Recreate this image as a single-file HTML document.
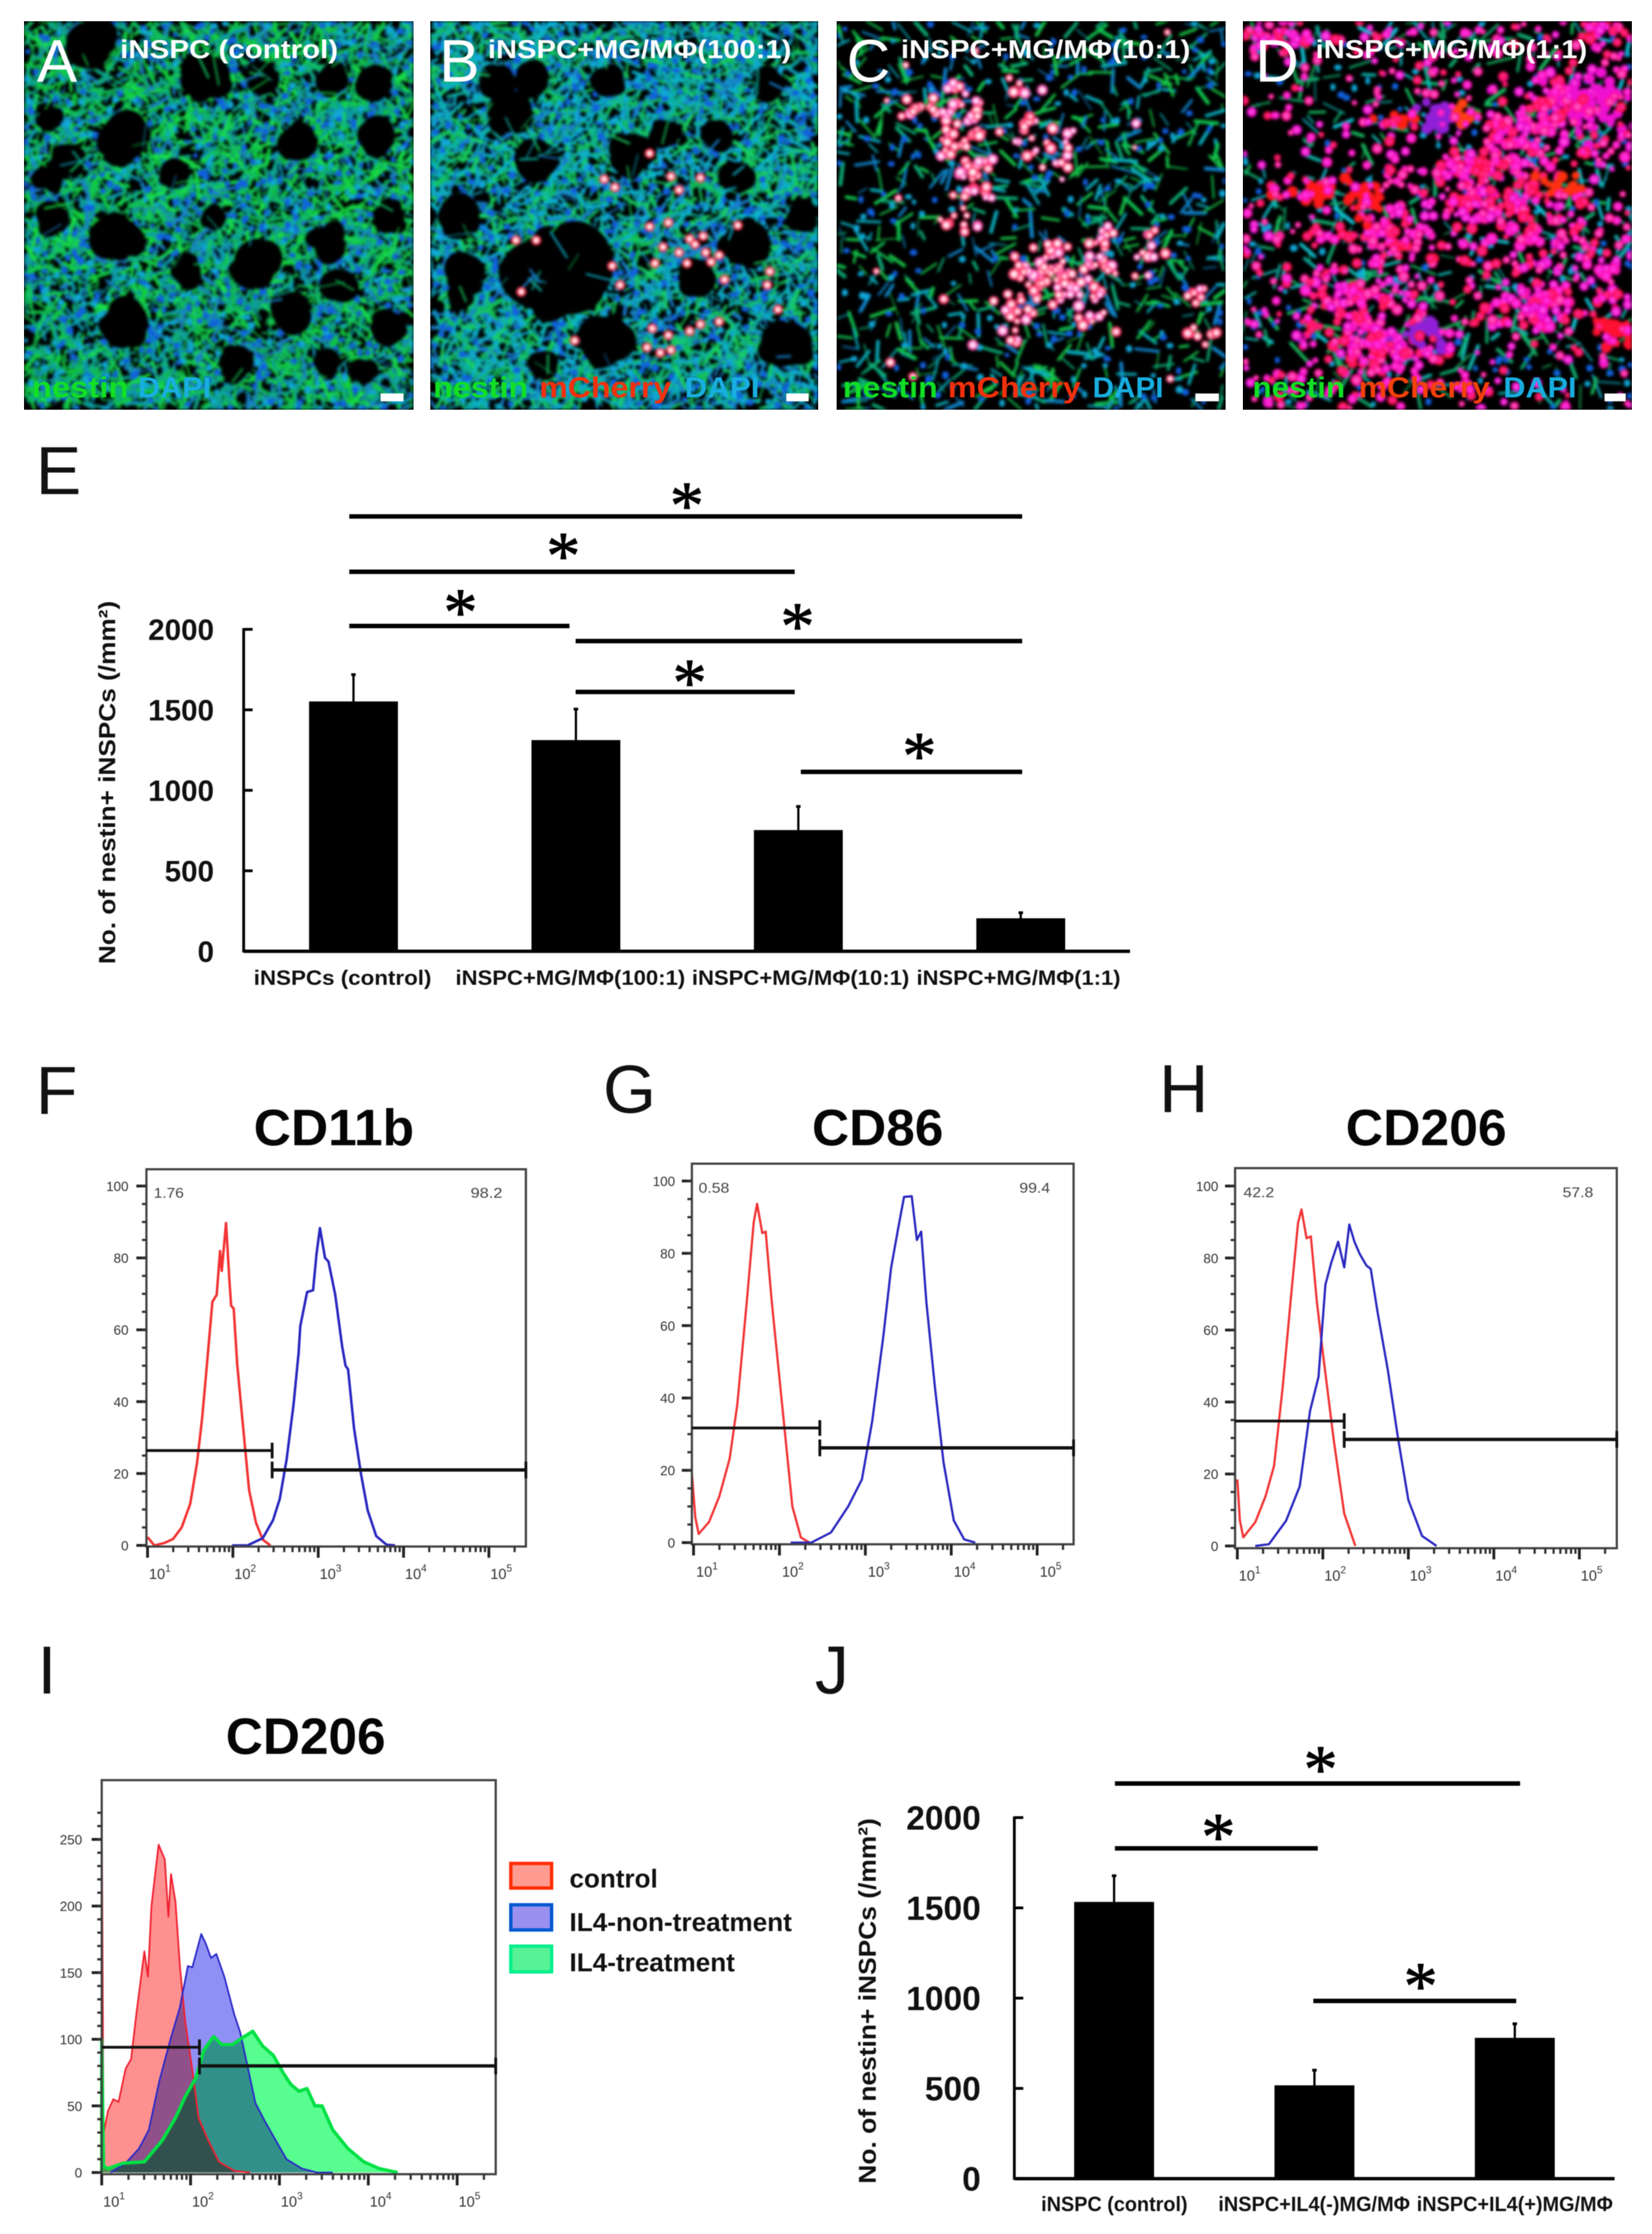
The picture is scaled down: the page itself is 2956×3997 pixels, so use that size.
<!DOCTYPE html>
<html lang="en">
<head>
<meta charset="utf-8">
<title>Nestin+ iNSPC co-culture figure</title>
<style>
html,body{margin:0;padding:0;background:#fff}
#fig{position:relative;width:2956px;height:3997px;overflow:hidden;background:#fff}
.micbox{position:absolute;top:38px;height:695px;overflow:hidden;background:#000}
canvas{display:block;filter:blur(2.6px)}
svg{position:absolute;left:0;top:0;filter:blur(.7px)}
text{font-family:"Liberation Sans",sans-serif}
.pl{font-size:122px;fill:#111}
.pw{font-size:108px;fill:#fff}
.pt{font-size:46px;font-weight:700;fill:#fff}
.st{font-size:52px;font-weight:700}
.ht{font-size:92px;font-weight:700;fill:#050505}
.pc{font-size:25px;fill:#444}
.star{font-family:"Liberation Serif",serif;font-size:122px;font-weight:400;fill:#000;stroke:#000;stroke-width:1.5;text-anchor:middle}
.lg{font-size:46px;font-weight:700;fill:#111}
</style>
</head>
<body>
<div id="fig">
<div class="micbox" style="left:43px;width:697px"><canvas id="micA" width="697" height="695"></canvas></div>
<div class="micbox" style="left:770px;width:694px"><canvas id="micB" width="694" height="695"></canvas></div>
<div class="micbox" style="left:1497px;width:696px"><canvas id="micC" width="696" height="695"></canvas></div>
<div class="micbox" style="left:2224px;width:696px"><canvas id="micD" width="696" height="695"></canvas></div>

<svg id="s" width="2956" height="3997" viewBox="0 0 2956 3997" xmlns="http://www.w3.org/2000/svg">
  <!-- micrograph labels -->
  <text class="pw" x="66" y="146">A</text>
  <text class="pw" x="786" y="146">B</text>
  <text class="pw" x="1515" y="146">C</text>
  <text class="pw" x="2246" y="146">D</text>

  <text class="pt" x="215" y="104" textLength="390" lengthAdjust="spacingAndGlyphs">iNSPC (control)</text>
  <text class="pt" x="873" y="104" textLength="543" lengthAdjust="spacingAndGlyphs">iNSPC+MG/MΦ(100:1)</text>
  <text class="pt" x="1612" y="104" textLength="518" lengthAdjust="spacingAndGlyphs">iNSPC+MG/MΦ(10:1)</text>
  <text class="pt" x="2354" y="104" textLength="486" lengthAdjust="spacingAndGlyphs">iNSPC+MG/MΦ(1:1)</text>

  <g>
    <text class="st" x="57" y="711" fill="#12e024" textLength="173" lengthAdjust="spacingAndGlyphs">nestin</text>
    <text class="st" x="247" y="711" fill="#18aee0" textLength="131" lengthAdjust="spacingAndGlyphs">DAPI</text>
  </g>
  <g>
    <text class="st" x="775" y="711" fill="#12e024" textLength="170" lengthAdjust="spacingAndGlyphs">nestin</text>
    <text class="st" x="965" y="711" fill="#f4300c" textLength="236" lengthAdjust="spacingAndGlyphs">mCherry</text>
    <text class="st" x="1225" y="711" fill="#18aee0" textLength="134" lengthAdjust="spacingAndGlyphs">DAPI</text>
  </g>
  <g>
    <text class="st" x="1508" y="711" fill="#12e024" textLength="170" lengthAdjust="spacingAndGlyphs">nestin</text>
    <text class="st" x="1696" y="711" fill="#f4300c" textLength="238" lengthAdjust="spacingAndGlyphs">mCherry</text>
    <text class="st" x="1955" y="711" fill="#18aee0" textLength="127" lengthAdjust="spacingAndGlyphs">DAPI</text>
  </g>
  <g>
    <text class="st" x="2241" y="711" fill="#12e024" textLength="166" lengthAdjust="spacingAndGlyphs">nestin</text>
    <text class="st" x="2431" y="711" fill="#f4400c" textLength="235" lengthAdjust="spacingAndGlyphs">mCherry</text>
    <text class="st" x="2690" y="711" fill="#18aee0" textLength="131" lengthAdjust="spacingAndGlyphs">DAPI</text>
  </g>
  <rect x="681" y="704" width="41" height="14" fill="#fff"/>
  <rect x="1407" y="704" width="40" height="14" fill="#fff"/>
  <rect x="2139" y="704" width="42" height="14" fill="#fff"/>
  <rect x="2871" y="704" width="38" height="14" fill="#fff"/>

  <!-- panel letters -->
  <text class="pl" x="64" y="884">E</text>
  <text class="pl" x="64" y="1993">F</text>
  <text class="pl" x="1079" y="1991">G</text>
  <text class="pl" x="2074" y="1990">H</text>
  <text class="pl" x="67" y="3030">I</text>
  <text class="pl" x="1458" y="3030">J</text>

  <!-- E significance annotations -->
  <g fill="#000">
    <rect x="625" y="920" width="1204" height="8"/>
    <rect x="625" y="1019" width="797" height="8"/>
    <rect x="625" y="1116" width="394" height="8"/>
    <rect x="1030" y="1143" width="799" height="8"/>
    <rect x="1030" y="1234" width="392" height="8"/>
    <rect x="1433" y="1377" width="396" height="8"/>
    <text class="star" x="1229" y="945">*</text>
    <text class="star" x="1008" y="1035">*</text>
    <text class="star" x="824" y="1136">*</text>
    <text class="star" x="1427" y="1161">*</text>
    <text class="star" x="1234" y="1262">*</text>
    <text class="star" x="1645" y="1393">*</text>
  </g>
  <text transform="translate(206,1725) rotate(-90)" font-size="42" font-weight="700" fill="#111" textLength="650" lengthAdjust="spacingAndGlyphs">No. of nestin+ iNSPCs (/mm²)</text>

  <!-- J significance annotations -->
  <g fill="#000">
    <rect x="1995" y="3187" width="725" height="8"/>
    <rect x="1995" y="3303" width="363" height="8"/>
    <rect x="2350" y="3576" width="363" height="8"/>
    <text class="star" x="2363" y="3206">*</text>
    <text class="star" x="2180" y="3327">*</text>
    <text class="star" x="2542" y="3594">*</text>
  </g>
  <text transform="translate(1567,3907) rotate(-90)" font-size="44" font-weight="700" fill="#111" textLength="654" lengthAdjust="spacingAndGlyphs">No. of nestin+ iNSPCs (/mm²)</text>

  <!-- flow titles -->
  <text class="ht" x="454" y="2049" textLength="287" lengthAdjust="spacingAndGlyphs">CD11b</text>
  <text class="ht" x="1453" y="2049" textLength="235" lengthAdjust="spacingAndGlyphs">CD86</text>
  <text class="ht" x="2408" y="2049" textLength="288" lengthAdjust="spacingAndGlyphs">CD206</text>
  <text class="ht" x="404" y="3138" textLength="286" lengthAdjust="spacingAndGlyphs">CD206</text>

  <text class="pc" x="275" y="2143" textLength="54" lengthAdjust="spacingAndGlyphs">1.76</text>
  <text class="pc" x="842" y="2143" textLength="57" lengthAdjust="spacingAndGlyphs">98.2</text>
  <text class="pc" x="1250" y="2134" textLength="55" lengthAdjust="spacingAndGlyphs">0.58</text>
  <text class="pc" x="1824" y="2134" textLength="55" lengthAdjust="spacingAndGlyphs">99.4</text>
  <text class="pc" x="2225" y="2142" textLength="55" lengthAdjust="spacingAndGlyphs">42.2</text>
  <text class="pc" x="2796" y="2142" textLength="55" lengthAdjust="spacingAndGlyphs">57.8</text>

  <!-- legend for I -->
  <g>
    <g>
      <rect x="914" y="3334" width="73" height="44" fill="#ff9c92" stroke="#ff2c00" stroke-width="6"/>
      <text class="lg" x="1019" y="3377" textLength="158" lengthAdjust="spacingAndGlyphs">control</text>
    </g>
    <g>
      <rect x="914" y="3408" width="73" height="45" fill="#9a90f0" stroke="#0058d0" stroke-width="6"/>
      <text class="lg" x="1019" y="3455" textLength="398" lengthAdjust="spacingAndGlyphs">IL4-non-treatment</text>
    </g>
    <g>
      <rect x="914" y="3482" width="73" height="46" fill="#58f296" stroke="#00ee8c" stroke-width="6"/>
      <text class="lg" x="1019" y="3527" textLength="296" lengthAdjust="spacingAndGlyphs">IL4-treatment</text>
    </g>
  </g>
</svg>
</div>

<script>
/* ---------- Panel E data ---------- */
const eCategories = ['iNSPCs (control)', 'iNSPC+MG/MΦ(100:1)', 'iNSPC+MG/MΦ(10:1)', 'iNSPC+MG/MΦ(1:1)'];
const eValues = [1552, 1312, 753, 205];
const eErrorTops = [1722, 1508, 903, 243];
const eTickLabels = [0, 500, 1000, 1500, 2000];

/* ---------- Panel J data ---------- */
const jCategories = ['iNSPC (control)', 'iNSPC+IL4(-)MG/MΦ', 'iNSPC+IL4(+)MG/MΦ'];
const jValues = [1533, 517, 780];
const jErrorTops = [1681, 604, 861];
const jTickLabels = [0, 500, 1000, 1500, 2000];

/* ---------- Flow cytometry data: log10 intensity and % of max / count ---------- */
const pctTicks = [0, 20, 40, 60, 80, 100];
const countTicks = [0, 50, 100, 150, 200, 250];
const decadeExponents = [1, 2, 3, 4, 5];

const fRedLog = [1.00,1.08,1.20,1.30,1.40,1.50,1.58,1.64,1.69,1.76,1.81,1.85,1.87,1.92,1.96,1.98,2.01,2.05,2.11,2.19,2.27,2.35,2.44];
const fRedPct = [2.3,0,0.7,1.8,5,11.6,23,35.4,48.8,67.8,69.7,81.9,76.4,89.7,73.5,66.7,65.9,50.7,35.4,15.4,6.4,1.6,0];
const fBlueLog = [1.99,2.17,2.35,2.47,2.55,2.63,2.71,2.77,2.79,2.87,2.94,2.98,3.02,3.08,3.12,3.20,3.28,3.32,3.35,3.42,3.50,3.58,3.68,3.80,3.90];
const fBluePct = [0,0,2,7,13,24,39,53.5,61,70.5,71,81,88.3,80,79,69.7,55.4,50,49,32.6,20,9.7,2.6,0.2,0];
const fGateSplit = [2.46];
const fGateLevels = [26.4, 21];

const gRedLog = [0.98,1.02,1.06,1.18,1.30,1.42,1.51,1.62,1.70,1.74,1.80,1.84,1.91,1.99,2.07,2.15,2.25,2.35];
const gRedPct = [19.4,7,2.4,5.7,12.8,23.2,38.3,66.7,88.5,93.7,85.6,86,66.7,47.8,28.9,10,1.4,0];
const gBlueLog = [2.13,2.37,2.60,2.80,2.96,3.08,3.21,3.30,3.38,3.45,3.54,3.60,3.65,3.71,3.81,3.91,4.03,4.15,4.28];
const gBluePct = [0,0,2.8,10,17.5,33.6,57.2,76,86.6,95.6,95.8,83.7,86,66.7,43,22.2,6.1,0.9,0];
const gGateSplit = [2.47];
const gGateLevels = [31.7, 26.2];

const hRedLog = [1,1.03,1.07,1.21,1.33,1.43,1.53,1.63,1.71,1.75,1.81,1.86,1.93,2.01,2.13,2.25,2.38];
const hRedPct = [18.5,7,2.4,6.6,13.8,22.3,44,69.8,89.7,93.5,85.5,86,67.9,51.8,29,9,0];
const hBlueLog = [1.21,1.37,1.57,1.73,1.85,1.95,2.03,2.10,2.18,2.25,2.31,2.37,2.43,2.51,2.56,2.64,2.76,2.88,3.0,3.16,3.33];
const hBluePct = [0,0.5,7,16.6,37.5,47,72.6,78.8,84.5,77.4,89.3,84.5,81.2,77.9,77,65,48.9,29.9,12.8,2.8,0];
const hGateSplit = [2.25];
const hGateLevels = [34.7, 29.6];

const iRedLog = [1,1,1.02,1.07,1.13,1.19,1.27,1.33,1.39,1.48,1.52,1.56,1.64,1.71,1.75,1.78,1.83,1.88,1.94,2.02,2.09,2.20,2.32,2.49,2.67];
const iRedCount = [0,284,29,46,55,53,78,85,119,166,147,200,246,235,192,224,203,155,113,77,41,24,8,1.4,0];
const iBlueLog = [1.1,1.27,1.42,1.53,1.65,1.77,1.88,1.97,2.02,2.12,2.17,2.23,2.29,2.38,2.49,2.56,2.64,2.73,2.84,2.96,3.08,3.25,3.42,3.6];
const iBlueCount = [0,7,18,32,69,99,124,155,154,179,172,161,164,147,119,105,80,52,38,24,10,3,0,0];
const iGreenLog = [1,1,1.02,1.07,1.24,1.48,1.68,1.83,1.94,2.06,2.15,2.26,2.35,2.47,2.58,2.70,2.81,2.93,3.05,3.13,3.22,3.31,3.40,3.48,3.60,3.77,3.95,4.12,4.33];
const iGreenCount = [0,100,5,3,7,8,24,41,57,71,92,102,96,96,101,106,95,88,74,66,61,63,50,50,32,18,8,3,0];
const iGateSplit = [2.10];
const iGateLevels = [94, 80];

/* ---------- helpers ---------- */
const NS = 'http://www.w3.org/2000/svg';
const svg = document.getElementById('s');
function mk(tag, attrs, parent, txt) {
  const el = document.createElementNS(NS, tag);
  for (const k in attrs) el.setAttribute(k, attrs[k]);
  if (txt !== undefined) el.textContent = txt;
  (parent || svg).appendChild(el);
  return el;
}
function slug(s) { return s.toLowerCase().replace(/[^a-z0-9]+/g, '-').replace(/^-|-$/g, ''); }

/* ---------- bar charts ---------- */
function barChart(cfg) {
  const g = mk('g', {});
  
  
  const yScale = v => cfg.y0 - (v / cfg.yMax) * cfg.yLen;
  const xScale = i => cfg.firstCenter + i * cfg.step;

  const yAxis = mk('line', {x1: cfg.axisX, x2: cfg.axisX, y1: yScale(cfg.yMax) - 2, y2: cfg.y0 + 2, stroke: '#000', 'stroke-width': 5}, g);
  
  
  const xAxis = mk('line', {x1: cfg.axisX, x2: cfg.axisEnd, y1: cfg.y0, y2: cfg.y0, stroke: '#000', 'stroke-width': 6}, g);
  
  

  cfg.ticks.forEach(t => {
    const tk = mk('line', {x1: cfg.axisX, x2: cfg.axisX + 16, y1: yScale(t), y2: yScale(t), stroke: '#000', 'stroke-width': 5}, g);
    
    
    const lb = mk('text', {x: cfg.labelRight, y: yScale(t) + cfg.tickFont * 0.36, 'text-anchor': 'end', 'font-size': cfg.tickFont, 'font-weight': 700, fill: '#111'}, g, String(t));
    
    
  });

  cfg.values.forEach((v, i) => {
    const cx = xScale(i);
    const err = mk('line', {x1: cx, x2: cx, y1: yScale(cfg.errors[i]), y2: yScale(v), stroke: '#000', 'stroke-width': 4}, g);
    
    
    const cap = mk('line', {x1: cx - 4, x2: cx + 4, y1: yScale(cfg.errors[i]) + 1, y2: yScale(cfg.errors[i]) + 1, stroke: '#000', 'stroke-width': 5}, g);
    
    
    const bar = mk('rect', {x: cx - cfg.barW / 2, y: yScale(v), width: cfg.barW, height: cfg.y0 - yScale(v), fill: '#000'}, g);
    
    
    const lay = cfg.labelLayout[i];
    const lb = mk('text', {x: lay.x, y: cfg.labelY, 'font-size': 37, 'font-weight': 700, fill: '#111', textLength: lay.w, lengthAdjust: 'spacingAndGlyphs'}, g, cfg.categories[i]);
    
    
  });
}

barChart({
  id: 'e', categories: eCategories, values: eValues, errors: eErrorTops, ticks: eTickLabels,
  yMax: 2000, yLen: 576, y0: 1702, axisX: 436, axisEnd: 2022, firstCenter: 632.5, step: 398, barW: 159,
  labelRight: 383, tickFont: 53, labelY: 1762,
  labelLayout: [{x: 454, w: 318}, {x: 815, w: 411}, {x: 1238, w: 389}, {x: 1640, w: 365}]
});
barChart({
  id: 'j', categories: jCategories, values: jValues, errors: jErrorTops, ticks: jTickLabels,
  yMax: 2000, yLen: 646, y0: 3898, axisX: 1815, axisEnd: 2889, firstCenter: 1993.5, step: 358.5, barW: 143,
  labelRight: 1755, tickFont: 60, labelY: 3956,
  labelLayout: [{x: 1863, w: 262}, {x: 2180, w: 343}, {x: 2535, w: 351}]
});

/* ---------- flow histograms ---------- */
function histPlot(c) {
  const g = mk('g', {});
  
  
  const xs = lg => c.x10 + (lg - 1) * c.dec;
  const ys = v => c.y0 - v * c.ppu;
  const xEnd = c.r;

  c.series.forEach(s => {
    const pts = s.x.map((lg, i) => [xs(lg), ys(s.y[i])]);
    if (s.fill) {
      const d = 'M' + xs(s.x[0]) + ' ' + c.y0 + ' L' + pts.map(p => p[0].toFixed(1) + ' ' + p[1].toFixed(1)).join(' L') + ' L' + xs(s.x[s.x.length - 1]) + ' ' + c.y0 + ' Z';
      const area = mk('path', {d: d, fill: s.fill, style: 'mix-blend-mode:multiply'}, g);
      
      
    }
  });
  c.series.forEach(s => {
    const pts = s.x.map((lg, i) => xs(lg).toFixed(1) + ',' + ys(s.y[i]).toFixed(1)).join(' ');
    const ln = mk('polyline', {points: pts, fill: 'none', stroke: s.stroke, 'stroke-width': s.w, 'stroke-linejoin': 'round'}, g);
    
    
  });

  const frame = mk('rect', {x: c.l, y: c.t, width: c.r - c.l, height: c.b - c.t, fill: 'none', stroke: '#444', 'stroke-width': 4}, g);
  
  

  c.yTicks.forEach(t => {
    const tk = mk('line', {x1: c.l - 18, x2: c.l, y1: ys(t), y2: ys(t), stroke: '#222', 'stroke-width': 5}, g);
    
    
    const lb = mk('text', {x: c.labelRight, y: ys(t) + 9, 'text-anchor': 'end', 'font-size': 24, fill: '#333'}, g, String(t));
    
    
  });
  const mt = mk('g', {stroke: '#333', 'stroke-width': 4}, g);
  
  
  const topVal = c.yTicks[c.yTicks.length - 1];
  for (let v = 0; v <= topVal + c.minorStep * 2; v += c.minorStep) {
    if (ys(v) < c.t) break;
    mk('line', {x1: c.l - 8, x2: c.l, y1: ys(v), y2: ys(v)}, mt);
  }
  decadeExponents.forEach(ex => {
    const tk = mk('line', {x1: xs(ex), x2: xs(ex), y1: c.b, y2: c.b + 20, stroke: '#222', 'stroke-width': 5}, g);
    
    
    const lb = mk('text', {x: xs(ex) + c.labelShift, y: c.b + 58, 'text-anchor': 'middle', 'font-size': 26, fill: '#333'}, g);
    
    
    mk('tspan', {}, lb, '10');
    mk('tspan', {dy: -13, 'font-size': 18}, lb, String(ex));
    for (let m = 2; m <= 9; m++) {
      const px = xs(ex + Math.log10(m));
      if (px < c.r) mk('line', {x1: px, x2: px, y1: c.b, y2: c.b + 10}, mt);
    }
  });

  const split = xs(c.split);
  const gl = mk('g', {stroke: '#111', 'stroke-width': 5}, g);
  
  
  const left = mk('line', {x1: c.l, x2: split, y1: ys(c.levels[0]), y2: ys(c.levels[0])}, gl);
  
  
  mk('line', {x1: split, x2: split, y1: ys(c.levels[0]) - 14, y2: ys(c.levels[0]) + 14}, gl);
  const right = mk('line', {x1: split, x2: xEnd, y1: ys(c.levels[1]), y2: ys(c.levels[1]), 'stroke-width': 6}, gl);
  
  
  mk('line', {x1: split, x2: split, y1: ys(c.levels[1]) - 15, y2: ys(c.levels[1]) + 15}, gl);
  mk('line', {x1: xEnd, x2: xEnd, y1: ys(c.levels[1]) - 15, y2: ys(c.levels[1]) + 15}, gl);
}

const RED = '#f23434', BLUE = '#2a28c0';
histPlot({id: 'f-cd11b', l: 262, r: 941, t: 2092, b: 2767, x10: 264, dec: 152.7, y0: 2765, ppu: 6.43,
  yTicks: pctTicks, minorStep: 5, labelRight: 230, labelShift: 22, split: fGateSplit[0], levels: fGateLevels,
  series: [{name: 'control', x: fRedLog, y: fRedPct, stroke: RED, w: 4.5}, {name: 'stained', x: fBlueLog, y: fBluePct, stroke: BLUE, w: 4.5}]});
histPlot({id: 'g-cd86', l: 1238, r: 1921, t: 2082, b: 2763, x10: 1241, dec: 153.7, y0: 2760, ppu: 6.47,
  yTicks: pctTicks, minorStep: 5, labelRight: 1208, labelShift: 24, split: gGateSplit[0], levels: gGateLevels,
  series: [{name: 'control', x: gRedLog, y: gRedPct, stroke: RED, w: 4}, {name: 'stained', x: gBlueLog, y: gBluePct, stroke: BLUE, w: 4}]});
histPlot({id: 'h-cd206', l: 2210, r: 2893, t: 2090, b: 2770, x10: 2214, dec: 153, y0: 2766, ppu: 6.44,
  yTicks: pctTicks, minorStep: 5, labelRight: 2180, labelShift: 22, split: hGateSplit[0], levels: hGateLevels,
  series: [{name: 'control', x: hRedLog, y: hRedPct, stroke: RED, w: 4}, {name: 'stained', x: hBlueLog, y: hBluePct, stroke: BLUE, w: 4}]});
histPlot({id: 'i-cd206', l: 182, r: 887, t: 3185, b: 3890, x10: 182, dec: 159, y0: 3887, ppu: 2.384,
  yTicks: countTicks, minorStep: 10, labelRight: 147, labelShift: 22, split: iGateSplit[0], levels: iGateLevels,
  series: [
    {name: 'control', x: iRedLog, y: iRedCount, stroke: '#f02030', w: 3, fill: '#ff9090'},
    {name: 'il4-non-treatment', x: iBlueLog, y: iBlueCount, stroke: '#2a28c8', w: 3, fill: '#9090f4'},
    {name: 'il4-treatment', x: iGreenLog, y: iGreenCount, stroke: '#00e044', w: 6, fill: '#58ff90'}
  ]});

/* ---------- micrograph textures (decorative imagery, not chart data) ---------- */
function rng(seed) {
  return function () {
    seed |= 0; seed = seed + 0x6D2B79F5 | 0;
    let t = Math.imul(seed ^ seed >>> 15, 1 | seed);
    t = t + Math.imul(t ^ t >>> 7, 61 | t) ^ t;
    return ((t ^ t >>> 14) >>> 0) / 4294967296;
  };
}
function paint(id, o) {
  const c = document.getElementById(id), x = c.getContext('2d'), r = rng(o.seed);
  const W = c.width, H = c.height;
  const px = v => (v - o.ox) / o.sx, py = v => (v - 78) / 2.06;
  const gauss = () => (r() + r() + r() + r() - 2) / 1.1;
  const minL = o.minLen || 14, varL = o.varLen || 34;
  const hs = o.holeScale || 1;
  x.fillStyle = '#000'; x.fillRect(0, 0, W, H);
  function fiber(fx, fy, len, w) {
    const a = r() * Math.PI * 2;
    x.strokeStyle = o.palette[Math.floor(r() * o.palette.length)];
    x.lineWidth = w; x.lineCap = 'round';
    x.beginPath();
    x.moveTo(fx - Math.cos(a) * len / 2, fy - Math.sin(a) * len / 2);
    x.lineTo(fx + Math.cos(a) * len / 2, fy + Math.sin(a) * len / 2);
    x.stroke();
  }
  for (let i = 0; i < o.fibers; i++) fiber(r() * W, r() * H, minL + r() * varL, 2 + r() * 5);
  for (let i = 0; i < o.nuclei; i++) {
    x.fillStyle = r() < .6 ? '#1060e0' : '#10a8d8';
    x.beginPath(); x.ellipse(r() * W, r() * H, 4 + r() * 3, 4 + r() * 3, 0, 0, 7); x.fill();
  }
  (o.holes || []).forEach(h => {
    const hx = h[2] * hs / o.sx, hy = h[3] * hs / 2.06;
    x.fillStyle = '#000';
    for (let k = 0; k < 9; k++) {
      x.beginPath();
      x.ellipse(px(h[0]) + gauss() * hx * .35, py(h[1]) + gauss() * hy * .35, hx * (.55 + r() * .35), hy * (.55 + r() * .35), r() * 3, 0, 7);
      x.fill();
    }
  });
  for (let i = 0; i < (o.over || 0); i++) fiber(r() * W, r() * H, 20 + r() * 35, 1.5 + r() * 2.5);
  function cell(cx, cy, rad, col, core) {
    x.fillStyle = col;
    x.beginPath(); x.arc(cx, cy, rad, 0, 7); x.fill();
    if (core) { x.fillStyle = core; x.beginPath(); x.arc(cx, cy, rad * .6, 0, 7); x.fill(); }
  }
  (o.singles || []).forEach(p => cell(px(p[0]), py(p[1]), 9, '#ff3048', '#ffe8ee'));
  (o.clusters || []).forEach(k => {
    for (let i = 0; i < k[4]; i++) {
      const cols = o.cellCols[Math.floor(r() * o.cellCols.length)];
      cell(px(k[0]) + gauss() * k[2] / o.sx, py(k[1]) + gauss() * k[3] / 2.06, 6 + r() * 5, k[5] || cols[0], k[5] ? null : cols[1]);
    }
  });
  for (let i = 0; i < (o.scatter || 0); i++) {
    const cols = o.cellCols[Math.floor(r() * o.cellCols.length)];
    cell(r() * W, r() * H, 5 + r() * 5, cols[0], cols[1]);
  }
}
paint('micA', {seed: 11, ox: 45, sx: 1.045, fibers: 4200, nuclei: 800, over: 140, holeScale: .74,
  palette: ['#12d03c', '#10b84c', '#0ea88c', '#0c98b0', '#1a80c8', '#18e048', '#10c060'],
  holes: [[170,170,62,120],[230,510,72,130],[130,590,50,100],[380,290,62,100],[490,290,52,90],[700,300,52,90],[620,290,40,76],[705,510,52,100],[560,530,46,90],[210,860,60,130],[100,800,44,90],[480,980,54,120],[610,900,46,90],[730,800,40,90],[330,640,40,76],[230,1190,62,120],[545,1150,50,100],[635,1050,46,90],[730,1210,40,100],[90,660,38,76],[350,1000,36,76],[440,1340,44,76],[680,1370,40,60],[90,430,36,60],[610,1330,36,60],[400,800,32,60]]});
paint('micB', {seed: 23, ox: 805, sx: 1.045, fibers: 3700, nuclei: 800, over: 140, holeScale: .74,
  palette: ['#12c058', '#0eb0a0', '#10a8c0', '#0ab4d0', '#1880d0', '#18d060'],
  holes: [[1050,1000,140,210],[860,810,50,120],[870,1010,56,100],[1300,1030,56,90],[1400,900,70,110],[950,420,56,100],[1000,590,56,100],[1180,560,70,100],[1470,1270,70,120],[1130,1250,80,120],[1000,290,48,90],[1440,310,44,90],[1340,500,44,76],[1250,500,44,60],[930,300,50,90],[1140,300,44,76],[1500,800,34,90],[1380,650,44,76],[860,1100,30,76],[1020,1350,34,76]],
  singles: [[1215,565],[1130,660],[1150,690],[1255,650],[1310,655],[1270,700],[1250,820],[1215,835],[1380,830],[965,885],[1003,885],[1290,880],[1315,870],[1240,910],[1270,930],[1300,900],[1320,930],[1345,940],[1225,970],[1285,970],[1330,965],[1145,980],[1440,1000],[1355,1030],[1435,1050],[1160,1050],[975,1075],[1455,1140],[1345,1185],[1310,1195],[1290,1220],[1220,1210],[1250,1235],[1210,1280],[1235,1300],[1255,1290],[1075,1255]]});
paint('micC', {seed: 37, ox: 18, sx: 1.0623, fibers: 720, nuclei: 260, scatter: 26, minLen: 14, varLen: 30,
  palette: ['#10c850', '#0cb078', '#0ab0c0', '#1088d0', '#18c848'],
  cellCols: [['#ff3060', '#ffd8e8'], ['#ff4070', '#ffeaf2'], ['#ff50b0', '#ffe0f8']],
  clusters: [[235,390,60,90,30],[290,490,30,30,8],[220,530,40,40,12],[285,610,48,70,18],[280,705,32,36,10],[420,560,50,70,20],[245,815,40,40,10],[460,980,90,95,48],[400,1020,50,60,18],[350,1120,40,70,12],[430,1100,60,50,12],[620,860,14,20,3],[700,1070,22,30,5],[710,1250,26,40,6],[500,1170,40,30,6],[350,1240,24,30,5],[380,330,24,30,5],[150,400,26,40,6],[385,430,26,36,8],[530,880,26,40,8],[600,940,36,30,6]]});
paint('micD', {seed: 53, ox: 790, sx: 1.0623, fibers: 420, nuclei: 220, scatter: 680,
  palette: ['#10b070', '#10b8b0', '#10c8d8', '#18c060'],
  cellCols: [['#ff10b0', '#ff30e0'], ['#ff1040', '#ff2090'], ['#e808c8', '#ff40e0'], ['#ff1090', '#ff50c0']],
  holes: [[850,500,50,140],[1100,600,60,70]],
  clusters: [[1395,360,60,90,46],[1460,400,80,120,50,'#f010d0'],[1165,440,50,60,30,'#9020d8'],[1300,700,110,260,130],[1070,870,80,110,60],[1050,1280,90,110,70],[1000,1100,110,150,80],[1330,1130,80,90,60],[1220,640,50,100,36],[930,710,60,36,28,'#ff1818'],[1020,740,30,90,26,'#ff1818'],[1500,1230,36,60,22,'#ff1030'],[1380,480,130,100,60],[1400,680,40,40,18,'#ff3010'],[1090,440,40,30,12,'#ff2010'],[1215,420,20,40,10,'#ff4010'],[1450,1000,70,150,40],[1130,1230,60,60,24,'#9020d8'],[1480,120,60,60,24],[850,120,60,40,22]]});
</script>
</body>
</html>
